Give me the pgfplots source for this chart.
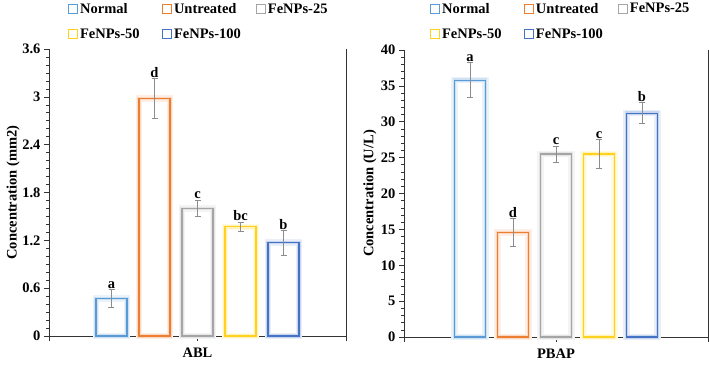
\documentclass[border=0pt]{standalone}
\usepackage{fontspec}
\setmainfont{Liberation Serif}
\usepackage{pgfplots}
\pgfplotsset{compat=1.18}

\definecolor{cNormal}{HTML}{5B9BD5}
\definecolor{cUntr}{HTML}{ED7D31}
\definecolor{cF25}{HTML}{A5A5A5}
\definecolor{cF50}{HTML}{FFD21F}
\definecolor{cF100}{HTML}{4472C4}
\newcommand{\lbl}{\bfseries\fontsize{14.5}{16}\selectfont}

% x is measured in pt along each panel, so bars sit 43pt apart
\pgfplotsset{
  panel/.style={
    scale only axis, height=287pt, ymin=0,
    axis lines=left, axis line style={-, black!80, line width=0.8pt},
    tick align=outside, major tick length=5pt, minor tick length=3pt,
    tick style={black!80, line width=0.6pt},
    /pgf/number format/assume math mode=true,
    tick label style={font=\lbl},
    xticklabel style={yshift=-3pt},
    label style={font=\lbl},
    clip=false,
    legend image code/.code={\draw[##1] (0pt,-4.5pt) rectangle (9pt,4.5pt);},
    legend style={draw=none, fill=none, legend columns=3, anchor=north west,
      font=\lbl, column sep=0pt, row sep=10pt, inner sep=0pt},
    legend cell align=left,
  },
  % soft halo round each bar outline: a wide pale stroke under a narrower one
  haloA/.style={ybar, bar width=31pt, bar shift=0pt, draw=#1!12,
    line width=6.5pt, fill=none, forget plot},
  haloB/.style={ybar, bar width=31pt, bar shift=0pt, draw=#1!30,
    line width=3.5pt, fill=none, forget plot},
  edge/.style={ybar, bar width=31pt, bar shift=0pt, draw=#1,
    line width=1.1pt, fill=none, forget plot,
    error bars/y dir=both, error bars/y explicit,
    error bars/error bar style={line width=0.7pt, black!45},
    error bars/error mark options={rotate=90, mark size=3pt, line width=0.7pt, black!45}},
  letter/.style={only marks, mark=none, forget plot, nodes near coords,
    point meta=explicit symbolic,
    nodes near coords style={font=\lbl, anchor=south, inner sep=1pt}},
  legsq/.style={draw=#1, line width=0.9pt, fill=white},
}

\begin{document}
\begin{tikzpicture}
\useasboundingbox (-49pt,-28pt) rectangle (660pt,336pt);

% ---------------- ABL ----------------
\begin{axis}[panel, at={(0pt,0pt)}, anchor=south west, width=297pt,
  xmin=-148.5, xmax=148.5, xtick={-148.5,0,148.5}, xticklabels={,ABL,},
  ymax=3.6, ytick={0,0.6,1.2,1.8,2.4,3,3.6}, minor y tick num=5,
  ylabel={Concentration (mm2)},
  ylabel style={at={(axis description cs:-0.121,0.5)}, anchor=center},
  legend style={at={(axis description cs:0.064,1.167)}}]
  \addplot[haloA=cNormal] coordinates {(-86,0.47)};
  \addplot[haloA=cUntr]   coordinates {(-43,2.98)};
  \addplot[haloA=cF25]    coordinates {(0,1.60)};
  \addplot[haloA=cF50]    coordinates {(43,1.37)};
  \addplot[haloA=cF100]   coordinates {(86,1.17)};
  \addplot[haloB=cNormal] coordinates {(-86,0.47)};
  \addplot[haloB=cUntr]   coordinates {(-43,2.98)};
  \addplot[haloB=cF25]    coordinates {(0,1.60)};
  \addplot[haloB=cF50]    coordinates {(43,1.37)};
  \addplot[haloB=cF100]   coordinates {(86,1.17)};
  \addplot[edge=cNormal] coordinates {(-86,0.47) +- (0,0.11)};
  \addplot[edge=cUntr]   coordinates {(-43,2.98) +- (0,0.25)};
  \addplot[edge=cF25]    coordinates {(0,1.60) +- (0,0.105)};
  \addplot[edge=cF50]    coordinates {(43,1.37) +- (0,0.06)};
  \addplot[edge=cF100]   coordinates {(86,1.17) +- (0,0.155)};
  \addplot[letter] coordinates {(-86,0.58) [a] (-43,3.23) [d] (0,1.705) [c]
                                (43,1.43) [bc] (86,1.325) [b]};
  \draw[black!80, line width=0.8pt] (rel axis cs:1,0) -- (rel axis cs:1,1);
  \addlegendimage{legsq=cNormal}\addlegendentry{\makebox[80pt][l]{Normal}}
  \addlegendimage{legsq=cUntr}\addlegendentry{\makebox[80pt][l]{Untreated}}
  \addlegendimage{legsq=cF25}\addlegendentry{FeNPs-25}
  \addlegendimage{legsq=cF50}\addlegendentry{\makebox[80pt][l]{FeNPs-50}}
  \addlegendimage{legsq=cF100}\addlegendentry{\makebox[80pt][l]{FeNPs-100}}
\end{axis}

% ---------------- PBAP ----------------
\begin{axis}[panel, at={(355pt,-1pt)}, anchor=south west, width=304pt,
  xmin=-152, xmax=152, xtick={-152,0,152}, xticklabels={,PBAP,},
  ymax=40, ytick={0,5,10,15,20,25,30,35,40}, minor y tick num=4,
  ylabel={Concentration (U/L)},
  ylabel style={at={(axis description cs:-0.112,0.5)}, anchor=center},
  legend style={at={(axis description cs:0.0855,1.171)}}]
  \addplot[haloA=cNormal] coordinates {(-86,35.8)};
  \addplot[haloA=cUntr]   coordinates {(-43,14.55)};
  \addplot[haloA=cF25]    coordinates {(0,25.5)};
  \addplot[haloA=cF50]    coordinates {(43,25.5)};
  \addplot[haloA=cF100]   coordinates {(86,31.2)};
  \addplot[haloB=cNormal] coordinates {(-86,35.8)};
  \addplot[haloB=cUntr]   coordinates {(-43,14.55)};
  \addplot[haloB=cF25]    coordinates {(0,25.5)};
  \addplot[haloB=cF50]    coordinates {(43,25.5)};
  \addplot[haloB=cF100]   coordinates {(86,31.2)};
  \addplot[edge=cNormal] coordinates {(-86,35.8) +- (0,2.45)};
  \addplot[edge=cUntr]   coordinates {(-43,14.55) +- (0,1.95)};
  \addplot[edge=cF25]    coordinates {(0,25.5) +- (0,1.1)};
  \addplot[edge=cF50]    coordinates {(43,25.5) +- (0,2.0)};
  \addplot[edge=cF100]   coordinates {(86,31.2) +- (0,1.45)};
  \addplot[letter] coordinates {(-86,38.25) [a] (-43,16.5) [d] (0,26.6) [c]
                                (43,27.5) [c] (86,32.65) [b]};
  \draw[black!80, line width=0.8pt] (rel axis cs:1,0) -- (rel axis cs:1,1);
  \addlegendimage{legsq=cNormal}\addlegendentry{\makebox[80pt][l]{Normal}}
  \addlegendimage{legsq=cUntr}\addlegendentry{\makebox[80pt][l]{Untreated}}
  \addlegendimage{legsq=cF25}\addlegendentry{FeNPs-25}
  \addlegendimage{legsq=cF50}\addlegendentry{\makebox[80pt][l]{FeNPs-50}}
  \addlegendimage{legsq=cF100}\addlegendentry{\makebox[80pt][l]{FeNPs-100}}
\end{axis}
\end{tikzpicture}
\end{document}
